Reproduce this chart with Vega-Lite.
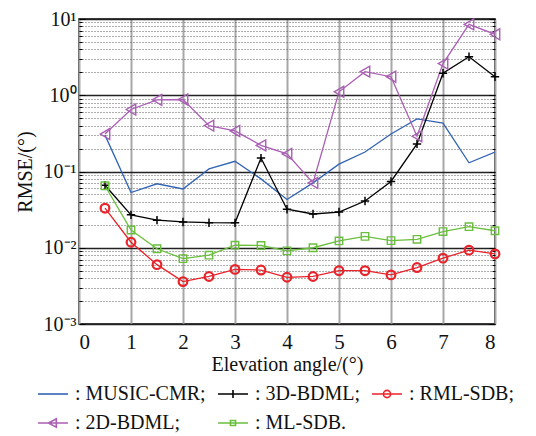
{
  "$schema": "https://vega.github.io/schema/vega-lite/v6.json",
  "width": 416,
  "height": 305,
  "autosize": {"type": "none"},
  "padding": {"left": 79, "top": 19, "right": 41, "bottom": 112},
  "background": "white",
  "config": {
    "font": "Liberation Serif",
    "view": {"stroke": "#000", "strokeWidth": 1.5},
    "axis": {"labelFont": "Liberation Serif", "titleFont": "Liberation Serif", "labelFontSize": 20, "titleFontSize": 20, "titleFontWeight": "normal", "labelColor": "#111", "titleColor": "#111"},
    "legend": {"labelFont": "Liberation Serif", "labelFontSize": 20, "labelColor": "#111"}
  },
  "datasets": {
    "rmse": [
      {"x": 0.5, "v": 0.30, "s": "MUSIC-CMR"}, {"x": 1, "v": 0.053, "s": "MUSIC-CMR"}, {"x": 1.5, "v": 0.069, "s": "MUSIC-CMR"}, {"x": 2, "v": 0.059, "s": "MUSIC-CMR"},
      {"x": 2.5, "v": 0.108, "s": "MUSIC-CMR"}, {"x": 3, "v": 0.136, "s": "MUSIC-CMR"}, {"x": 3.5, "v": 0.08, "s": "MUSIC-CMR"}, {"x": 4, "v": 0.043, "s": "MUSIC-CMR"},
      {"x": 4.5, "v": 0.071, "s": "MUSIC-CMR"}, {"x": 5, "v": 0.125, "s": "MUSIC-CMR"}, {"x": 5.5, "v": 0.18, "s": "MUSIC-CMR"}, {"x": 6, "v": 0.31, "s": "MUSIC-CMR"},
      {"x": 6.5, "v": 0.49, "s": "MUSIC-CMR"}, {"x": 7, "v": 0.43, "s": "MUSIC-CMR"}, {"x": 7.5, "v": 0.13, "s": "MUSIC-CMR"}, {"x": 8, "v": 0.18, "s": "MUSIC-CMR"},

      {"x": 0.5, "v": 0.066, "s": "3D-BDML"}, {"x": 1, "v": 0.027, "s": "3D-BDML"}, {"x": 1.5, "v": 0.023, "s": "3D-BDML"}, {"x": 2, "v": 0.0218, "s": "3D-BDML"},
      {"x": 2.5, "v": 0.0213, "s": "3D-BDML"}, {"x": 3, "v": 0.0212, "s": "3D-BDML"}, {"x": 3.5, "v": 0.15, "s": "3D-BDML"}, {"x": 4, "v": 0.032, "s": "3D-BDML"},
      {"x": 4.5, "v": 0.0277, "s": "3D-BDML"}, {"x": 5, "v": 0.0294, "s": "3D-BDML"}, {"x": 5.5, "v": 0.041, "s": "3D-BDML"}, {"x": 6, "v": 0.074, "s": "3D-BDML"},
      {"x": 6.5, "v": 0.23, "s": "3D-BDML"}, {"x": 7, "v": 1.94, "s": "3D-BDML"}, {"x": 7.5, "v": 3.2, "s": "3D-BDML"}, {"x": 8, "v": 1.75, "s": "3D-BDML"},

      {"x": 0.5, "v": 0.033, "s": "RML-SDB"}, {"x": 1, "v": 0.0118, "s": "RML-SDB"}, {"x": 1.5, "v": 0.0060, "s": "RML-SDB"}, {"x": 2, "v": 0.0036, "s": "RML-SDB"},
      {"x": 2.5, "v": 0.0042, "s": "RML-SDB"}, {"x": 3, "v": 0.0052, "s": "RML-SDB"}, {"x": 3.5, "v": 0.0051, "s": "RML-SDB"}, {"x": 4, "v": 0.0041, "s": "RML-SDB"},
      {"x": 4.5, "v": 0.0042, "s": "RML-SDB"}, {"x": 5, "v": 0.0050, "s": "RML-SDB"}, {"x": 5.5, "v": 0.0050, "s": "RML-SDB"}, {"x": 6, "v": 0.0044, "s": "RML-SDB"},
      {"x": 6.5, "v": 0.0055, "s": "RML-SDB"}, {"x": 7, "v": 0.0073, "s": "RML-SDB"}, {"x": 7.5, "v": 0.0093, "s": "RML-SDB"}, {"x": 8, "v": 0.0083, "s": "RML-SDB"},

      {"x": 0.5, "v": 0.31, "s": "2D-BDML"}, {"x": 1, "v": 0.65, "s": "2D-BDML"}, {"x": 1.5, "v": 0.87, "s": "2D-BDML"}, {"x": 2, "v": 0.88, "s": "2D-BDML"},
      {"x": 2.5, "v": 0.40, "s": "2D-BDML"}, {"x": 3, "v": 0.34, "s": "2D-BDML"}, {"x": 3.5, "v": 0.22, "s": "2D-BDML"}, {"x": 4, "v": 0.17, "s": "2D-BDML"},
      {"x": 4.5, "v": 0.071, "s": "2D-BDML"}, {"x": 5, "v": 1.11, "s": "2D-BDML"}, {"x": 5.5, "v": 2.04, "s": "2D-BDML"}, {"x": 6, "v": 1.75, "s": "2D-BDML"},
      {"x": 6.5, "v": 0.29, "s": "2D-BDML"}, {"x": 7, "v": 2.6, "s": "2D-BDML"}, {"x": 7.5, "v": 8.5, "s": "2D-BDML"}, {"x": 8, "v": 6.3, "s": "2D-BDML"},

      {"x": 0.5, "v": 0.065, "s": "ML-SDB"}, {"x": 1, "v": 0.0171, "s": "ML-SDB"}, {"x": 1.5, "v": 0.0097, "s": "ML-SDB"}, {"x": 2, "v": 0.0072, "s": "ML-SDB"},
      {"x": 2.5, "v": 0.0080, "s": "ML-SDB"}, {"x": 3, "v": 0.0108, "s": "ML-SDB"}, {"x": 3.5, "v": 0.0107, "s": "ML-SDB"}, {"x": 4, "v": 0.0091, "s": "ML-SDB"},
      {"x": 4.5, "v": 0.0100, "s": "ML-SDB"}, {"x": 5, "v": 0.0123, "s": "ML-SDB"}, {"x": 5.5, "v": 0.0141, "s": "ML-SDB"}, {"x": 6, "v": 0.0124, "s": "ML-SDB"},
      {"x": 6.5, "v": 0.0129, "s": "ML-SDB"}, {"x": 7, "v": 0.0163, "s": "ML-SDB"}, {"x": 7.5, "v": 0.0189, "s": "ML-SDB"}, {"x": 8, "v": 0.0167, "s": "ML-SDB"}
    ],
    "series": [
      {"s": "MUSIC-CMR"}, {"s": "3D-BDML"}, {"s": "RML-SDB"}, {"s": "2D-BDML"}, {"s": "ML-SDB"}
    ]
  },
  "resolve": {"axis": {"y": "independent"}},
  "layer": [
    {
      "data": {"name": "rmse"},
      "mark": {"type": "line", "strokeWidth": 1.3, "clip": true},
      "encoding": {
        "x": {
          "field": "x", "type": "quantitative",
          "scale": {"domain": [0, 8], "nice": false},
          "axis": {
            "values": [0, 1, 2, 3, 4, 5, 6, 7, 8],
            "title": "Elevation angle/(°)",
            "labelFontSize": 21,
            "grid": true, "gridColor": "#a8a8a8", "gridWidth": 2,
            "domain": false, "ticks": false, "labelPadding": 7, "titlePadding": 2
          }
        },
        "y": {
          "field": "v", "type": "quantitative",
          "scale": {"type": "log", "domain": [0.001, 10], "nice": false},
          "axis": {
            "values": [0.001, 0.002, 0.003, 0.004, 0.005, 0.006, 0.007, 0.008, 0.009,
                       0.01, 0.02, 0.03, 0.04, 0.05, 0.06, 0.07, 0.08, 0.09,
                       0.1, 0.2, 0.3, 0.4, 0.5, 0.6, 0.7, 0.8, 0.9,
                       1, 2, 3, 4, 5, 6, 7, 8, 9, 10],
            "title": "RMSE/(°)",
            "titlePadding": 8,
            "domain": false,
            "grid": true,
            "gridColor": {"condition": {"test": "datum.value == 0.001 || datum.value == 0.01 || datum.value == 0.1 || datum.value == 1 || datum.value == 10", "value": "#222"}, "value": "#4a4a4a"},
            "gridDash": {"condition": {"test": "datum.value == 0.001 || datum.value == 0.01 || datum.value == 0.1 || datum.value == 1 || datum.value == 10", "value": []}, "value": [1, 2]},
            "gridWidth": {"condition": {"test": "datum.value == 0.001 || datum.value == 0.01 || datum.value == 0.1 || datum.value == 1 || datum.value == 10", "value": 1.4}, "value": 0.9},
            "ticks": true,
            "tickColor": "#000",
            "tickSize": {"condition": {"test": "datum.value == 0.001 || datum.value == 0.01 || datum.value == 0.1 || datum.value == 1 || datum.value == 10", "value": -6}, "value": -3},
            "labelPadding": 9,
            "labelExpr": "datum.value == 10 ? '10¹' : datum.value == 1 ? '10⁰' : datum.value == 0.1 ? '10⁻¹' : datum.value == 0.01 ? '10⁻²' : datum.value == 0.001 ? '10⁻³' : ''"
          }
        },
        "color": {
          "field": "s", "type": "nominal",
          "scale": {"range": ["#aa5fb4", "#000000", "#6abf3c", "#3264b4", "#e8232a"]},
          "legend": null
        }
      }
    },
    {
      "data": {"name": "rmse"},
      "transform": [{"filter": "datum.s == '3D-BDML'"}],
      "mark": {"type": "point", "shape": "M-1,0H1M0,-1V1", "size": 70, "strokeWidth": 1.5, "color": "#000000", "filled": false, "opacity": 1},
      "encoding": {
        "x": {"field": "x", "type": "quantitative"},
        "y": {"field": "v", "type": "quantitative", "axis": null}
      }
    },
    {
      "data": {"name": "rmse"},
      "transform": [{"filter": "datum.s == 'RML-SDB'"}],
      "mark": {"type": "point", "shape": "circle", "size": 75, "strokeWidth": 2.2, "color": "#e8232a", "filled": false, "opacity": 1},
      "encoding": {
        "x": {"field": "x", "type": "quantitative"},
        "y": {"field": "v", "type": "quantitative", "axis": null}
      }
    },
    {
      "data": {"name": "rmse"},
      "transform": [{"filter": "datum.s == '2D-BDML'"}],
      "mark": {"type": "point", "shape": "triangle-left", "size": 120, "strokeWidth": 1.4, "color": "#aa5fb4", "filled": false, "opacity": 1},
      "encoding": {
        "x": {"field": "x", "type": "quantitative"},
        "y": {"field": "v", "type": "quantitative", "axis": null}
      }
    },
    {
      "data": {"name": "rmse"},
      "transform": [{"filter": "datum.s == 'ML-SDB'"}],
      "mark": {"type": "point", "shape": "square", "size": 55, "strokeWidth": 1.4, "color": "#6abf3c", "filled": false, "opacity": 1},
      "encoding": {
        "x": {"field": "x", "type": "quantitative"},
        "y": {
          "field": "v", "type": "quantitative",
          "axis": {
            "orient": "right",
            "values": [0.001, 0.002, 0.003, 0.004, 0.005, 0.006, 0.007, 0.008, 0.009,
                       0.01, 0.02, 0.03, 0.04, 0.05, 0.06, 0.07, 0.08, 0.09,
                       0.1, 0.2, 0.3, 0.4, 0.5, 0.6, 0.7, 0.8, 0.9,
                       1, 2, 3, 4, 5, 6, 7, 8, 9, 10],
            "title": null, "labels": false, "grid": false, "domain": false,
            "tickColor": "#000",
            "tickSize": {"condition": {"test": "datum.value == 0.001 || datum.value == 0.01 || datum.value == 0.1 || datum.value == 1 || datum.value == 10", "value": -6}, "value": -3}
          }
        }
      }
    },
    {
      "data": {"name": "series"},
      "mark": {"type": "point", "filled": false, "opacity": 0},
      "encoding": {
        "shape": {
          "field": "s", "type": "nominal",
          "scale": {
            "domain": ["MUSIC-CMR", "3D-BDML", "RML-SDB", "2D-BDML", "ML-SDB"],
            "range": [
              "M-1,0H1",
              "M-1,0H1M0,-0.27V0.27",
              "M-1,0H1M-0.24,0A0.24,0.24 0 1,1 0.24,0A0.24,0.24 0 1,1 -0.24,0",
              "M-1,0H1M-0.3,0L0.22,-0.28L0.22,0.28Z",
              "M-1,0H1M-0.17,-0.17H0.17V0.17H-0.17Z"
            ]
          },
          "legend": {
            "title": null, "orient": "none", "legendX": -42, "legendY": 359,
            "direction": "horizontal", "columns": 3, "columnPadding": 8, "rowPadding": 3,
            "symbolSize": 900, "symbolStrokeWidth": 1.6, "symbolOpacity": 1, "symbolFillColor": "transparent",
            "labelOffset": 6,
            "labelExpr": "datum.label == 'ML-SDB' ? ': ML-SDB.' : ': ' + datum.label + ';'"
          }
        },
        "stroke": {
          "field": "s", "type": "nominal",
          "scale": {"domain": ["MUSIC-CMR", "3D-BDML", "RML-SDB", "2D-BDML", "ML-SDB"], "range": ["#3264b4", "#000000", "#e8232a", "#aa5fb4", "#6abf3c"]}
        }
      }
    }
  ]
}
